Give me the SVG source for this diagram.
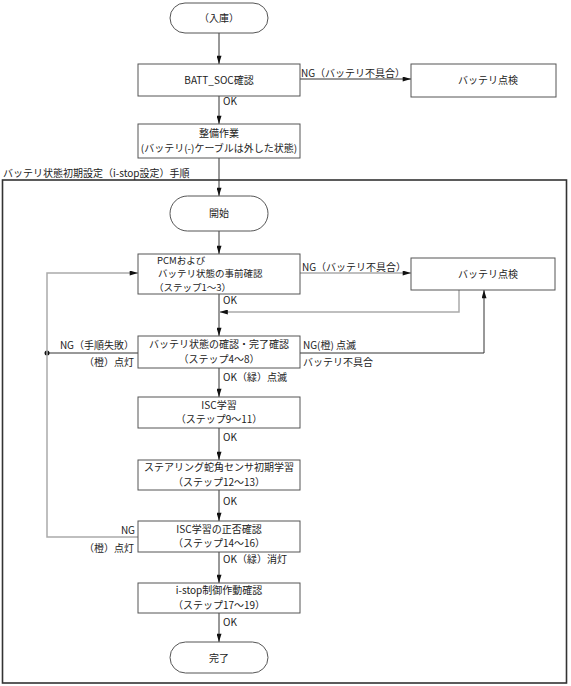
<svg xmlns="http://www.w3.org/2000/svg" width="571" height="686" viewBox="0 0 571 686">
<style>
.box{fill:#fff;stroke:#555;stroke-width:1}
.term{fill:#fff;stroke:#555;stroke-width:1}
.t{font-family:"Noto Sans CJK JP","Liberation Sans",sans-serif;font-size:10px;fill:#222}
.s{font-size:9.5px}
.c{text-anchor:middle}
.e{text-anchor:end}
.dk{stroke:#333;fill:none;stroke-width:1}
.lt{stroke:#aaa;fill:none;stroke-width:1.5}
.frame{fill:none;stroke:#333;stroke-width:1.6}
</style>
<defs>
<marker id="a" viewBox="0 0 10 6" refX="10" refY="3" markerWidth="9" markerHeight="5" orient="auto" markerUnits="userSpaceOnUse">
<path d="M0,0 L10,3 L0,6 z" fill="#111"/>
</marker>
</defs>
<rect id="frame" class="frame" x="2.5" y="180" width="564" height="503"/>
<text class="t" x="3" y="177">バッテリ状態初期設定（i-stop設定）手順</text>
<g id="connectors">
<line class="dk" x1="219" y1="33" x2="219" y2="64" marker-end="url(#a)"/>
<line class="dk" x1="219" y1="96" x2="219" y2="124" marker-end="url(#a)"/>
<line class="dk" x1="219" y1="158" x2="219" y2="196" marker-end="url(#a)"/>
<line class="dk" x1="219" y1="231" x2="219" y2="254" marker-end="url(#a)"/>
<line class="dk" x1="219" y1="294" x2="219" y2="336" marker-end="url(#a)"/>
<line class="dk" x1="219" y1="368" x2="219" y2="397" marker-end="url(#a)"/>
<line class="dk" x1="219" y1="428" x2="219" y2="460" marker-end="url(#a)"/>
<line class="dk" x1="219" y1="490" x2="219" y2="521" marker-end="url(#a)"/>
<line class="dk" x1="219" y1="552" x2="219" y2="583" marker-end="url(#a)"/>
<line class="dk" x1="219" y1="613" x2="219" y2="642" marker-end="url(#a)"/>
<line class="dk" x1="300" y1="79" x2="411" y2="79" marker-end="url(#a)"/>
<line class="lt" x1="300" y1="273" x2="411" y2="273" marker-end="url(#a)"/>
<polyline class="lt" points="459,290 459,312 219.5,312" marker-end="url(#a)"/>
<polyline class="dk" points="300,353 484,353 484,290" marker-end="url(#a)"/>
<line class="dk" x1="138" y1="353" x2="47" y2="353"/>
<circle cx="47" cy="353" r="2.5" fill="#111"/>
<polyline class="lt" points="138,537 47,537 47,273 138,273" marker-end="url(#a)"/>
<text class="t" x="301" y="77">NG（バッテリ不具合）</text>
<text class="t" x="223" y="105">OK</text>
<text class="t" x="302" y="271">NG（バッテリ不具合）</text>
<text class="t" x="223" y="304">OK</text>
<text class="t" x="303" y="349">NG(橙) 点滅</text>
<text class="t" x="303" y="366">バッテリ不具合</text>
<text class="t e" x="134" y="349">NG（手順失敗）</text>
<text class="t e" x="134" y="366">（橙）点灯</text>
<text class="t" x="223" y="381">OK（緑）点滅</text>
<text class="t" x="223" y="441">OK</text>
<text class="t" x="223" y="505">OK</text>
<text class="t e" x="135" y="534">NG</text>
<text class="t e" x="134" y="552">（橙）点灯</text>
<text class="t" x="223" y="563">OK（緑）消灯</text>
<text class="t" x="223" y="626">OK</text>
</g>
<g id="n_nyuko">
<rect class="term" x="170" y="3" width="98" height="30" rx="15"/>
<text class="t c" x="219" y="22">（入庫）</text>
</g>
<g id="n_batt_soc">
<rect class="box" x="138" y="64" width="162" height="32"/>
<text class="t c" x="219" y="84">BATT_SOC確認</text>
</g>
<g id="n_batt_check1">
<rect class="box" x="411" y="64" width="145" height="33"/>
<text class="t c" x="488" y="84">バッテリ点検</text>
</g>
<g id="n_seibi">
<rect class="box" x="138" y="124" width="162" height="34"/>
<text class="t c" x="219" y="137.3">整備作業</text>
<text class="t c" x="219" y="151.9">(バッテリ(-)ケーブルは外した状態)</text>
</g>
<g id="n_start">
<rect class="term" x="170" y="196" width="98" height="35" rx="17.5"/>
<text class="t c" x="219" y="217">開始</text>
</g>
<g id="n_pcm">
<rect class="box" x="138" y="254" width="162" height="40"/>
<text class="t s" x="157" y="263.5">PCMおよび</text>
<text class="t s" x="158" y="277.4">バッテリ状態の事前確認</text>
<text class="t s" x="154" y="291.3">（ステップ1～3）</text>
</g>
<g id="n_batt_check2">
<rect class="box" x="411" y="258" width="144" height="32"/>
<text class="t c" x="488" y="278">バッテリ点検</text>
</g>
<g id="n_step4">
<rect class="box" x="138" y="336" width="162" height="32"/>
<text class="t c" x="219" y="348.3">バッテリ状態の確認・完了確認</text>
<text class="t c" x="219" y="362.9">（ステップ4～8）</text>
</g>
<g id="n_isc">
<rect class="box" x="138" y="397" width="162" height="31"/>
<text class="t c" x="219" y="408.8">ISC学習</text>
<text class="t c" x="219" y="423.4">（ステップ9～11）</text>
</g>
<g id="n_steer">
<rect class="box" x="138" y="460" width="162" height="30"/>
<text class="t c" x="219" y="471.3">ステアリング蛇角センサ初期学習</text>
<text class="t c" x="219" y="485.9">（ステップ12～13）</text>
</g>
<g id="n_isc_check">
<rect class="box" x="138" y="521" width="162" height="31"/>
<text class="t c" x="219" y="532.8">ISC学習の正否確認</text>
<text class="t c" x="219" y="547.4">（ステップ14～16）</text>
</g>
<g id="n_istop">
<rect class="box" x="138" y="583" width="162" height="30"/>
<text class="t c" x="219" y="594.3">i-stop制御作動確認</text>
<text class="t c" x="219" y="608.9">（ステップ17～19）</text>
</g>
<g id="n_end">
<rect class="term" x="170" y="642" width="98" height="31" rx="15.5"/>
<text class="t c" x="219" y="662">完了</text>
</g>
</svg>
